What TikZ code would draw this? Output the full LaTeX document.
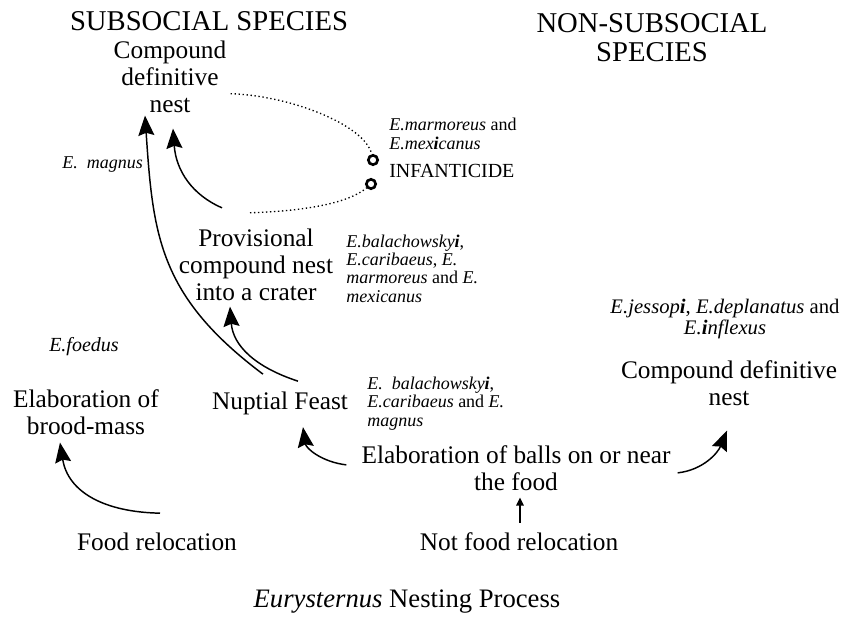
\documentclass[tikz,border=0pt]{standalone}
\usepackage{fontspec}
\setmainfont{Liberation Serif}
\usetikzlibrary{arrows.meta}

\begin{document}
\begin{tikzpicture}[x=0.75pt, y=-0.75pt]
\tikzstyle{title} = [font=\fontsize{21.5}{22}\selectfont, align=center, inner sep=0pt, anchor=base]
\tikzstyle{stage} = [font=\fontsize{19}{20}\selectfont, align=center, inner sep=0pt, anchor=base]
\tikzstyle{species} = [font=\fontsize{13.5}{13.7}\selectfont, align=left, inner sep=0pt, anchor=base west]
\tikzstyle{ring} = [circle, draw, line width=2pt, minimum size=7pt, inner sep=0pt]
\tikzstyle{move} = [-{Stealth[length=15pt, width=12pt, inset=2pt]}, line width=1.1pt]
\tikzstyle{push} = [-{Triangle[length=6pt, width=5.5pt]}, line width=1.5pt]
\tikzstyle{link} = [dotted, line width=1pt]

\useasboundingbox (0,0) rectangle (845,617);

\node[title] (subsocial) at (209,31) {SUBSOCIAL SPECIES};
\node[title] (nonsubsocial) at (652,62) {NON-SUBSOCIAL\\SPECIES};

\node[stage] (cdnL) at (170,112) {Compound\\definitive\\nest};
\node[species] (infsp) at (389,149) {\textit{E.marmoreus} and\\\textit{E.mex\textbf{i}canus}};
\node[ring] (ring1) at (373,160) {};
\node[ring] (ring2) at (371,184) {};
\node[species, font=\fontsize{15}{16}\selectfont] (infanticide) at (389,177) {INFANTICIDE};
\node[species] (magnus) at (62,168) {\textit{E.\ \ magnus}};
\node[stage] (prov) at (256,300) {Provisional\\compound nest\\into a crater};
\node[species] (provsp) at (346,302) {\textit{E.balachowsky\textbf{i}},\\\textit{E.caribaeus}, \textit{E.}\\\textit{marmoreus} and \textit{E.}\\\textit{mexicanus}};
\node[species, font=\fontsize{15}{16}\selectfont] (foedus) at (49,351) {\textit{E.foedus}};
\node[stage] (brood) at (86,434) {Elaboration of\\brood-mass};
\node[stage] (nuptial) at (280,409) {Nuptial Feast};
\node[species] (nuptsp) at (367,426) {\textit{E.\ \ balachowsky\textbf{i}},\\\textit{E.caribaeus} and \textit{E.}\\\textit{magnus}};
\node[species, font=\fontsize{15.5}{13.7}\selectfont, align=center, anchor=base] (nonsp) at (725,334) {\textit{E.jessop\textbf{i}}, \textit{E.deplanatus} and\\\textit{E.\textbf{i}nflexus}};
\node[stage] (cdnR) at (729,405) {Compound definitive\\nest};
\node[stage] (balls) at (516,490) {Elaboration of balls on or near\\the food};
\node[stage] (foodrel) at (157,550) {Food relocation};
\node[stage] (notfood) at (519,550) {Not food relocation};
\node[stage, font=\fontsize{20}{21}\selectfont] (caption) at (407,607) {\textit{Eurysternus} Nesting Process};

\draw[link] ([shift={(4,17)}]cdnL.east) .. controls +(60,2) and +(-8,-35) .. (ring1);
\draw[link] ([shift={(-6,-16)}]prov.north) .. controls +(60,-2) and +(-21,18) .. (ring2);
\draw[move] ([shift={(-34,-21)}]prov.north) .. controls +(-30,-13) and +(3,42) .. ([shift={(3,16)}]cdnL.south);
\draw[move] ([shift={(-17,-17)}]nuptial.north) .. controls +(-104,-78) and +(8,120) .. ([shift={(-25,3)}]cdnL.south);
\draw[move] ([shift={(18,-10)}]nuptial.north) .. controls +(-43,-14) and +(3,39) .. ([shift={(-26,6)}]prov.south);
\draw[move] ([shift={(-15,-3)}]balls.west) .. controls +(-25,-3) and +(3,21) .. ([shift={(23,12.5)}]nuptial.south);
\draw[move] ([shift={(7,5)}]balls.east) .. controls +(26,-3) and +(-9,22) .. ([shift={(-2,25)}]cdnR.south);
\draw[move] ([shift={(3,-19)}]foodrel.north) .. controls +(-55,-1) and +(8,50) .. ([shift={(-26,8)}]brood.south);
\draw[push] ([shift={(1,-9)}]notfood.north) -- ([shift={(4,7)}]balls.south);
\end{tikzpicture}
\end{document}
